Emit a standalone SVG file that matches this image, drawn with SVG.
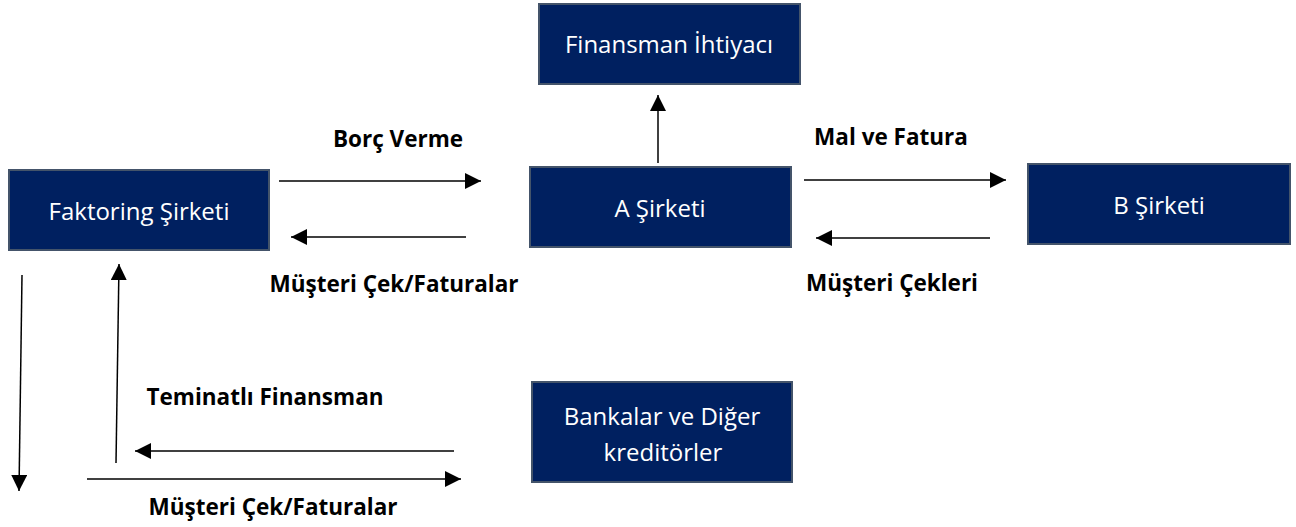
<svg xmlns="http://www.w3.org/2000/svg" width="1296" height="527" viewBox="0 0 1296 527">
<defs>
<style>
.box{fill:#002060;stroke:#44546A;stroke-width:2}
.nt{fill:#ffffff;font-family:"Open Sans","Liberation Sans",sans-serif;font-size:24px;text-anchor:middle}
.lb{fill:#000000;font-family:"Open Sans","Liberation Sans",sans-serif;font-size:22.5px;font-weight:bold;text-anchor:middle}
.ln{stroke:#000;stroke-width:1.5;fill:none;marker-end:url(#ah)}
</style>
<marker id="ah" viewBox="0 0 10 10" refX="10" refY="5" markerWidth="16" markerHeight="16" markerUnits="userSpaceOnUse" orient="auto">
<path d="M0,0 L10,5 L0,10 z" fill="#000"/>
</marker>
</defs>
<rect width="1296" height="527" fill="#fff"/>
<g id="faktoring"><rect class="box" x="9" y="170" width="260" height="80"/><text class="nt" x="139" y="220">Faktoring Şirketi</text></g>
<g id="finansman"><rect class="box" x="539" y="4" width="261" height="80"/><text class="nt" x="669" y="53">Finansman İhtiyacı</text></g>
<g id="a-sirketi"><rect class="box" x="530" y="167" width="261" height="80"/><text class="nt" x="660" y="217">A Şirketi</text></g>
<g id="b-sirketi"><rect class="box" x="1028" y="164" width="262" height="80"/><text class="nt" x="1159" y="214">B Şirketi</text></g>
<g id="bankalar"><rect class="box" x="532" y="382" width="260" height="100"/><text class="nt" x="662" y="425">Bankalar ve Diğer</text><text class="nt" x="663" y="461">kreditörler</text></g>
<g id="connectors">
<line class="ln" x1="658" y1="163" x2="658" y2="95"/>
<line class="ln" x1="279" y1="181" x2="481" y2="181"/>
<line class="ln" x1="466" y1="237" x2="291" y2="237"/>
<line class="ln" x1="804" y1="180" x2="1006" y2="180"/>
<line class="ln" x1="990" y1="238" x2="816" y2="238"/>
<line class="ln" x1="22" y1="275" x2="19" y2="491"/>
<line class="ln" x1="116" y1="463" x2="119" y2="264"/>
<line class="ln" x1="454" y1="451" x2="135" y2="451"/>
<line class="ln" x1="87" y1="479" x2="461" y2="479"/>
</g>
<g id="labels">
<text class="lb" x="398" y="147">Borç Verme</text>
<text class="lb" x="891" y="145">Mal ve Fatura</text>
<text class="lb" x="394" y="292">Müşteri Çek/Faturalar</text>
<text class="lb" x="892" y="291">Müşteri Çekleri</text>
<text class="lb" x="265" y="405">Teminatlı Finansman</text>
<text class="lb" x="273" y="515">Müşteri Çek/Faturalar</text>
</g>
</svg>
